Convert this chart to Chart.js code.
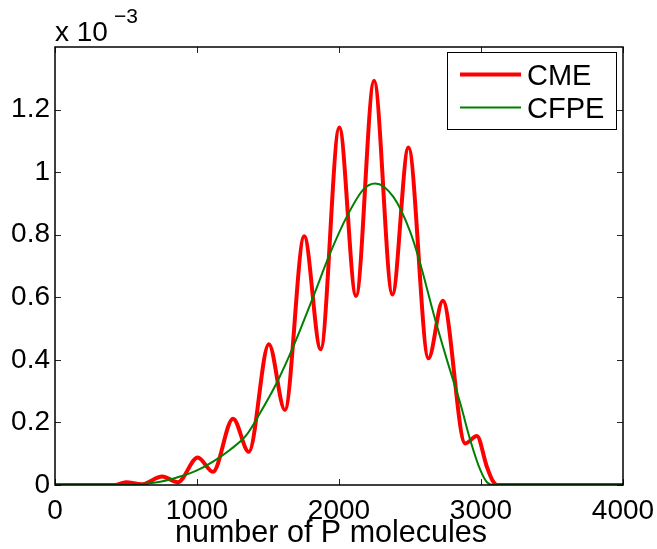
<!DOCTYPE html>
<html>
<head>
<meta charset="utf-8">
<script src="https://cdn.jsdelivr.net/npm/chart.js@4"></script>
<style>
  body { margin: 0; background: #fff; }
  canvas { display: block; }
</style>
</head>
<body>
<canvas id="grafico" width="657" height="549"></canvas>
<script>
// values in units of 10^-3
const cmeX = [0, 420, 500, 610, 755, 865, 1005, 1112, 1254, 1365, 1506, 1619, 1755, 1871, 2002, 2120, 2247, 2376, 2489, 2630, 2731, 2889, 2971, 3040, 3080, 3115, 4000];
const cmeY = [0, 0, 0.009, 0.002, 0.027, 0.009, 0.088, 0.042, 0.212, 0.106, 0.45, 0.24, 0.795, 0.434, 1.143, 0.604, 1.292, 0.609, 1.079, 0.405, 0.589, 0.133, 0.157, 0.06, 0.015, 0, 0];

const cfpeX = [0, 500, 650, 750, 880, 996, 1113, 1231, 1349, 1443, 1560, 1678, 1819, 1937, 2054, 2172, 2254, 2383, 2501, 2572, 2665, 2760, 2854, 2924, 2995, 3042, 3100, 4000];
const cfpeY = [0, 0.001, 0.005, 0.011, 0.027, 0.046, 0.075, 0.112, 0.16, 0.229, 0.325, 0.442, 0.602, 0.74, 0.857, 0.945, 0.964, 0.921, 0.81, 0.708, 0.549, 0.4, 0.261, 0.144, 0.048, 0.009, 0, 0];

const xTicks = [0, 1000, 2000, 3000, 4000];
const yTicks = [0, 0.2, 0.4, 0.6, 0.8, 1, 1.2];
const seriesNames = ['CME', 'CFPE'];
const xTitulo = 'number of P molecules';

const fonte = '"Liberation Sans", Arial, Helvetica, sans-serif';

function pontos(xs, ys) {
    return xs.map((x, i) => ({ x: x, y: ys[i] }));
}

// box, inward ticks, axis title, exponent label and legend, matlab style
const molduraPlugin = {
    id: 'moldura',
    afterDraw(chart) {
        const ctx = chart.ctx;
        const a = chart.chartArea;
        const xs = chart.scales.x;
        const ys = chart.scales.y;
        const tick = 6;

        ctx.save();
        ctx.strokeStyle = '#262626';
        ctx.lineWidth = 1;
        ctx.beginPath();
        xTicks.forEach(v => {
            const px = Math.round(xs.getPixelForValue(v)) + 0.5;
            ctx.moveTo(px, a.bottom); ctx.lineTo(px, a.bottom - tick);
            ctx.moveTo(px, a.top); ctx.lineTo(px, a.top + tick);
        });
        yTicks.forEach(v => {
            const py = Math.round(ys.getPixelForValue(v)) + 0.5;
            ctx.moveTo(a.left, py); ctx.lineTo(a.left + tick, py);
            ctx.moveTo(a.right, py); ctx.lineTo(a.right - tick, py);
        });
        ctx.stroke();

        ctx.strokeStyle = '#000';
        ctx.lineWidth = 1.5;
        ctx.strokeRect(a.left, a.top, a.right - a.left, a.bottom - a.top);

        // axis title, a bit left of centre like the original
        ctx.fillStyle = '#000';
        ctx.textBaseline = 'alphabetic';
        ctx.textAlign = 'center';
        ctx.font = '30.5px ' + fonte;
        ctx.fillText(xTitulo, 331, 542);

        // x 10^-3
        ctx.textAlign = 'left';
        ctx.font = '28px ' + fonte;
        ctx.fillText('x 10', 55, 41);
        ctx.font = '21px ' + fonte;
        ctx.fillText('\u22123', 114, 23);

        // legend
        ctx.fillStyle = '#fff';
        ctx.fillRect(447, 52, 169, 77);
        ctx.strokeStyle = '#000';
        ctx.lineWidth = 1;
        ctx.strokeRect(447.5, 52.5, 169, 77);
        const linhasY = [74.5, 107.5];
        chart.data.datasets.forEach(ds => {
            const idx = seriesNames.indexOf(ds.label);
            ctx.strokeStyle = ds.borderColor;
            ctx.lineWidth = ds.borderWidth;
            ctx.beginPath();
            ctx.moveTo(460, linhasY[idx]);
            ctx.lineTo(521, linhasY[idx]);
            ctx.stroke();
            ctx.fillStyle = '#000';
            ctx.font = '29px ' + fonte;
            ctx.fillText(ds.label, 527, linhasY[idx] + 10.5);
        });
        ctx.restore();
    }
};

const ctx = document.getElementById('grafico').getContext('2d');

const meuGrafico = new Chart(ctx, {
    type: 'line',
    data: {
        datasets: [{
            label: seriesNames[1],
            data: pontos(cfpeX, cfpeY),
            borderColor: '#008000',
            borderWidth: 2,
            pointRadius: 0,
            cubicInterpolationMode: 'monotone',
            order: 0
        }, {
            label: seriesNames[0],
            data: pontos(cmeX, cmeY),
            borderColor: '#ff0000',
            borderWidth: 4,
            pointRadius: 0,
            cubicInterpolationMode: 'monotone',
            order: 1
        }]
    },
    options: {
        responsive: false,
        animation: false,
        layout: { padding: { top: 47, right: 34, left: 0, bottom: 0 } },
        plugins: { legend: { display: false }, tooltip: { enabled: false } },
        scales: {
            x: {
                type: 'linear',
                min: 0,
                max: 4000,
                afterFit: s => { s.height = 64; s.paddingRight = 0; s.paddingLeft = 0; },
                afterBuildTicks: s => { s.ticks = xTicks.map(v => ({ value: v })); },
                grid: { display: false, drawTicks: false },
                border: { display: false },
                ticks: {
                    color: '#000',
                    padding: 9,
                    maxRotation: 0,
                    font: { family: fonte, size: 28 },
                    callback: v => String(v)
                }
            },
            y: {
                min: 0,
                max: 1.4,
                afterFit: s => { s.width = 55; },
                afterBuildTicks: s => { s.ticks = yTicks.map(v => ({ value: v })); },
                grid: { display: false, drawTicks: false },
                border: { display: false },
                ticks: {
                    color: '#000',
                    padding: 5,
                    font: { family: fonte, size: 28 },
                    callback: v => String(+v.toFixed(1))
                }
            }
        }
    },
    plugins: [molduraPlugin]
});
</script>
</body>
</html>
